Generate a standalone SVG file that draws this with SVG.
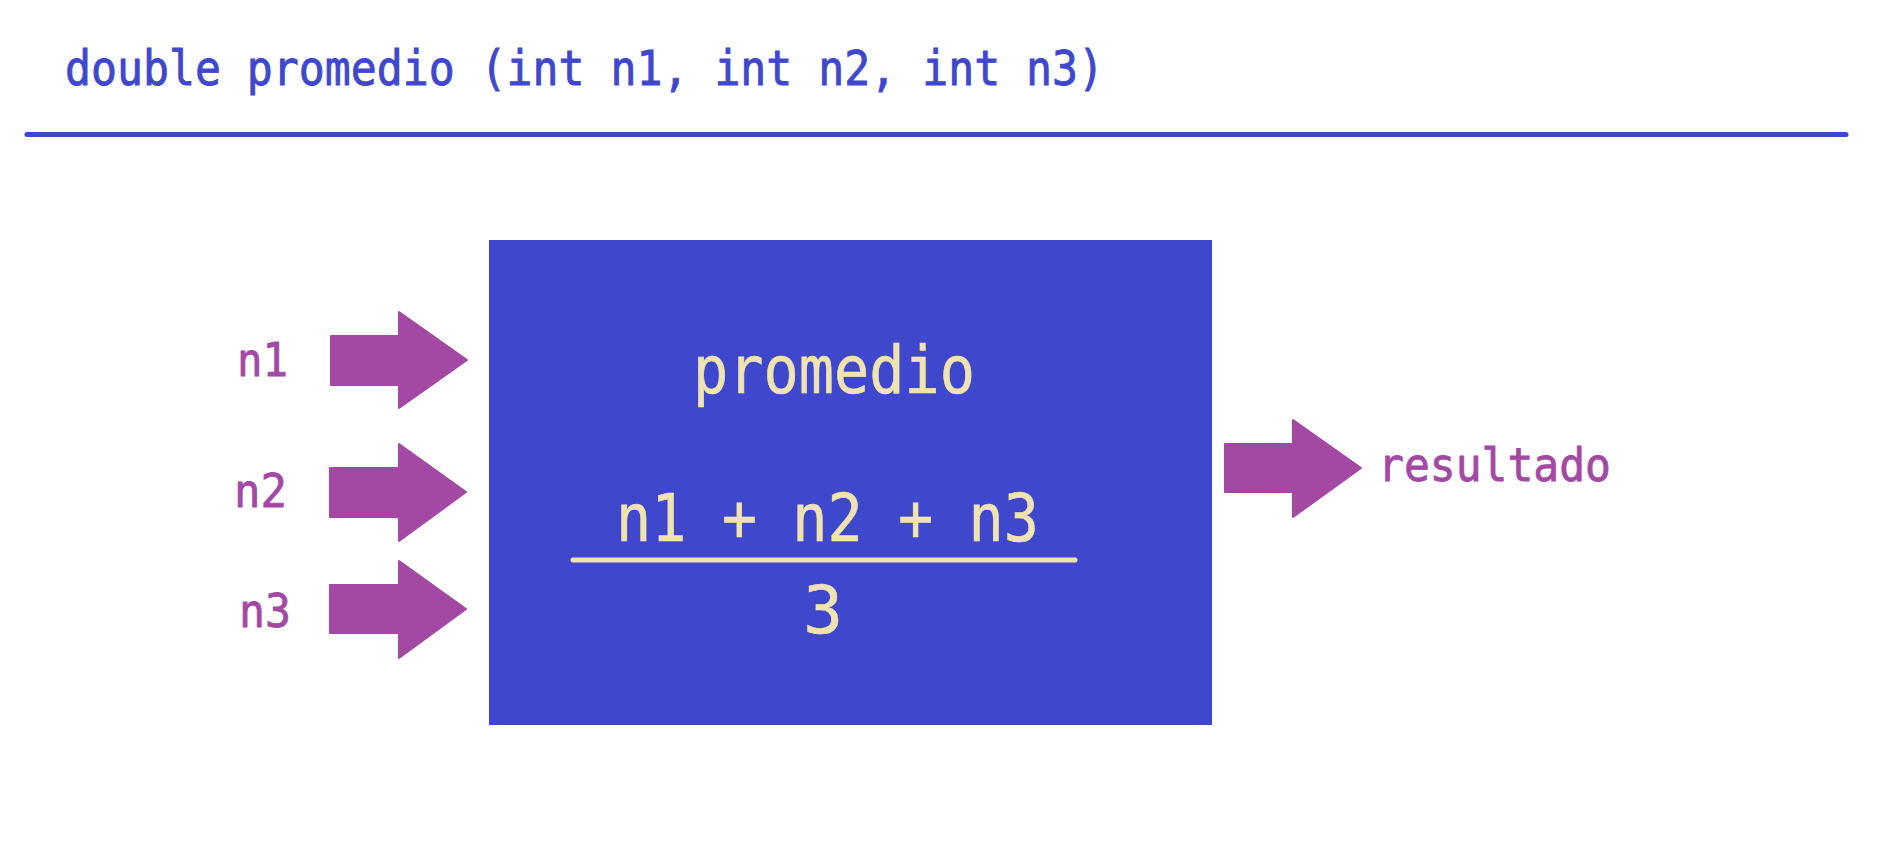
<svg xmlns="http://www.w3.org/2000/svg" width="1892" height="853" viewBox="0 0 1892 853">
<style>
.mono{font-family:"DejaVu Sans Mono","Liberation Mono",monospace;}
.title{fill:#3F48CC;stroke:#3F48CC;stroke-width:0.9;font-size:48px;}
.label{fill:#A349A4;stroke:#A349A4;stroke-width:0.8;font-size:46px;}
.inner{fill:#EFE4B0;stroke:#EFE4B0;stroke-width:0.6;font-size:66px;}
.arrow{fill:#A349A4;stroke:#A349A4;stroke-width:2;stroke-linejoin:round;}
</style>
<rect width="1892" height="853" fill="#FFFFFF"/>
<g id="header">
<text class="mono title" x="65" y="85" textLength="1039" lengthAdjust="spacingAndGlyphs">double promedio (int n1, int n2, int n3)</text>
<line x1="27" y1="134.5" x2="1846" y2="134.5" stroke="#3F48CC" stroke-width="5" stroke-linecap="round"/>
</g>
<g id="box">
<rect x="489" y="240" width="723" height="485" fill="#3F48CC"/>
<text class="mono inner" x="693" y="393" textLength="282" lengthAdjust="spacingAndGlyphs">promedio</text>
<text class="mono inner" x="616" y="541" textLength="423" lengthAdjust="spacingAndGlyphs">n1 + n2 + n3</text>
<line x1="573" y1="560" x2="1075" y2="560" stroke="#EFE4B0" stroke-width="5" stroke-linecap="round"/>
<text class="mono inner" x="823" y="633" text-anchor="middle">3</text>
</g>
<g id="input-n1">
<text class="mono label" x="237" y="376" textLength="51" lengthAdjust="spacingAndGlyphs">n1</text>
</g>
<g id="input-n2">
<text class="mono label" x="234" y="507" textLength="53" lengthAdjust="spacingAndGlyphs">n2</text>
</g>
<g id="input-n3">
<text class="mono label" x="239" y="627" textLength="52" lengthAdjust="spacingAndGlyphs">n3</text>
</g>
<g id="output-resultado">
<text class="mono label" x="1378" y="481" font-size="44" textLength="233" lengthAdjust="spacingAndGlyphs">resultado</text>
</g>
<g id="connectors">
<path class="arrow" d="M331,336 H399 V312 L467,360 L399,408 V385 H331 Z"/>
<path class="arrow" d="M330,468 H399 V444 L466,492 L399,541 V517 H330 Z"/>
<path class="arrow" d="M330,585 H399 V561 L466,609 L399,658 V633 H330 Z"/>
<path class="arrow" d="M1225,444 H1293 V420 L1361,468 L1293,517 V492 H1225 Z"/>
</g>
</svg>
